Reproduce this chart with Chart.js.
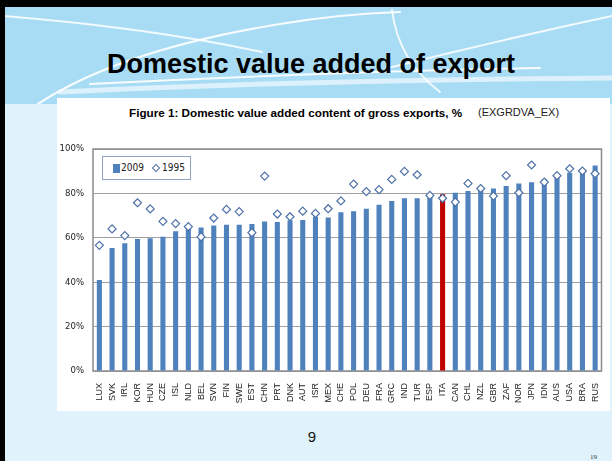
<!DOCTYPE html>
<html>
<head>
<meta charset="utf-8">
<script src="https://cdn.jsdelivr.net/npm/chart.js@4/dist/chart.umd.min.js"></script>
<style>
  html, body { margin: 0; padding: 0; }
  body { width: 612px; height: 461px; position: relative; overflow: hidden; background: #e0f3fd; font-family: "Liberation Sans", Arial, sans-serif; }
  .band { position: absolute; left: 0; top: 0; width: 612px; height: 104px; background: #a8dcf5; }
  .band svg { position: absolute; left: 0; top: 0; }
  .edge-top { position: absolute; left: 0; top: 0; width: 612px; height: 7px; background: #000; }
  .edge-left { position: absolute; left: 0; top: 0; width: 5px; height: 461px; background: #000; }
  .title { position: absolute; left: 0; width: 622px; top: 49px; text-align: center; font-weight: bold; font-size: 27px; color: #000; }
  .panel { position: absolute; left: 57px; top: 98px; width: 553px; height: 313px; background: #fff; }
  .caption { position: absolute; left: 129px; top: 106px; font-size: 11.7px; font-weight: bold; color: #000; white-space: nowrap; }
  .code { position: absolute; left: 478px; top: 106px; font-size: 11px; color: #222; white-space: nowrap; }
  #wrap { position: absolute; left: 57px; top: 130px; width: 553px; height: 281px; }
  .legend { position: absolute; left: 102px; top: 156px; width: 87px; height: 22px; border: 1px solid #8fa2c4; background: #fff;
            font-family: "Liberation Sans Narrow", "DejaVu Sans Condensed", sans-serif; font-size: 10px; color: #222; }
  .legend .sq { position: absolute; left: 10px; top: 7px; width: 7px; height: 9px; background: #4f81bd; }
  .legend .t1 { position: absolute; left: 18px; top: 5px; }
  .legend .dm { position: absolute; left: 50px; top: 8px; width: 4px; height: 4px; border: 1px solid #4d71a8; transform: rotate(45deg); background: #fff; }
  .legend .t2 { position: absolute; left: 59px; top: 5px; }
  .page { position: absolute; left: 300px; top: 428px; width: 24px; text-align: center; font-size: 15px; color: #111; }
  .small { position: absolute; left: 590px; top: 453px; font-size: 7px; font-family: "Liberation Serif", serif; color: #333; }
</style>
</head>
<body>
<div class="band">
  <svg width="612" height="104" viewBox="0 0 612 104">
    <g fill="none" stroke="#ffffff" stroke-linecap="round">
      <path d="M 4 16 Q 150 28 262 52" stroke-width="2" opacity="0.85"/>
      <path d="M 38 104 Q 120 50 280 24 Q 340 14 400 12" stroke-width="2.2" opacity="0.9"/>
      <path d="M 392 10 Q 398 60 440 92" stroke-width="2" opacity="0.85"/>
      <path d="M 612 16 Q 500 40 388 68" stroke-width="2" opacity="0.85"/>
      <path d="M 60 92 Q 300 80 612 78" stroke-width="5" opacity="0.6"/>
      <path d="M 90 84 Q 330 72 540 68" stroke-width="2" opacity="0.9"/>
    </g>
  </svg>
</div>
<div class="edge-top"></div>
<div class="edge-left"></div>
<div class="title">Domestic value added of export</div>
<div class="panel"></div>
<div class="caption">Figure 1: Domestic value added content of gross exports, %</div>
<div class="code">(EXGRDVA_EX)</div>
<div id="wrap"><canvas id="myChart" width="553" height="281"></canvas></div>
<div class="legend">
  <div class="sq"></div><div class="t1">2009</div>
  <div class="dm"></div><div class="t2">1995</div>
</div>
<div class="page">9</div>
<div class="small">19</div>

<script>
const countries = ["LUX", "SVK", "IRL", "KOR", "HUN", "CZE", "ISL", "NLD", "BEL", "SVN",
  "FIN", "SWE", "EST", "CHN", "PRT", "DNK", "AUT", "ISR", "MEX", "CHE",
  "POL", "DEU", "FRA", "GRC", "IND", "TUR", "ESP", "ITA", "CAN", "CHL",
  "NZL", "GBR", "ZAF", "NOR", "JPN", "IDN", "AUS", "USA", "BRA", "RUS"];

const share2009 = [41.0, 55.4, 57.5, 59.5, 59.8, 60.5, 63.0, 64.7, 64.6, 65.5,
  65.9, 65.9, 66.2, 67.3, 67.1, 67.9, 68.0, 69.5, 69.2, 71.5,
  72.0, 73.1, 74.9, 76.6, 77.8, 77.8, 79.3, 79.6, 80.3, 81.1,
  81.8, 82.2, 83.3, 84.5, 85.0, 86.5, 88.4, 89.3, 89.8, 92.6];

const share1995 = [56.6, 64.0, 61.0, 75.8, 73.0, 67.4, 66.4, 65.0, 60.4, 68.9,
  72.8, 71.8, 62.3, 87.8, 70.7, 69.5, 72.0, 71.0, 73.1, 76.6,
  84.2, 80.8, 81.7, 86.3, 89.9, 88.4, 79.1, 77.8, 76.1, 84.5,
  82.2, 78.8, 88.0, 80.3, 92.8, 85.1, 88.0, 91.1, 90.1, 88.9];

const yTicks = [0, 20, 40, 60, 80, 100];
const highlighted = "ITA";

const barBlue = "#4f81bd";
const barRed = "#c00000";
const diamondBlue = "#4d71a8";

// рамка вокруг области графика
const frame = {
  id: "frame",
  beforeDatasetsDraw(chart) {
    const a = chart.chartArea;
    const ctx = chart.ctx;
    ctx.save();
    ctx.strokeStyle = "#8c8c8c";
    ctx.lineWidth = 1.5;
    ctx.strokeRect(a.left, a.top, a.right - a.left, a.bottom - a.top);
    ctx.restore();
  }
};

const ctx = document.getElementById("myChart").getContext("2d");
new Chart(ctx, {
  data: {
    labels: countries,
    datasets: [
      {
        type: "line",
        label: "1995",
        data: share1995,
        showLine: false,
        pointStyle: "rectRot",
        pointRadius: 4,
        pointBackgroundColor: "#ffffff",
        pointBorderColor: diamondBlue,
        pointBorderWidth: 1.2,
        order: 0,
      },
      {
        type: "bar",
        label: "2009",
        data: share2009,
        backgroundColor: countries.map(c => c === highlighted ? barRed : barBlue),
        barPercentage: 0.4,
        categoryPercentage: 1,
        order: 1,
      },
    ],
  },
  options: {
    responsive: false,
    animation: false,
    layout: { padding: { left: 0, top: 19, right: 3, bottom: 0 } },
    plugins: {
      legend: { display: false },
      tooltip: { enabled: false },
    },
    scales: {
      x: {
        grid: { display: false },
        border: { display: false },
        ticks: {
          autoSkip: false,
          minRotation: 90,
          maxRotation: 90,
          padding: 4,
          color: "#222",
          font: { family: "'Liberation Sans', Arial, sans-serif", size: 9 },
        },
        afterFit(scale) { scale.height = 40; },
      },
      y: {
        min: 0,
        max: 100,
        afterBuildTicks(scale) { scale.ticks = yTicks.map(v => ({ value: v })); },
        grid: { color: "#a0a0a0", lineWidth: 1, drawTicks: false },
        border: { display: false },
        ticks: {
          padding: 9,
          color: "#222",
          font: { family: "'Liberation Sans Narrow', 'DejaVu Sans Condensed', sans-serif", size: 9.5 },
          callback: v => v + "%",
        },
        afterFit(scale) { scale.width = 36; },
      },
    },
  },
  plugins: [frame],
});
</script>
</body>
</html>
